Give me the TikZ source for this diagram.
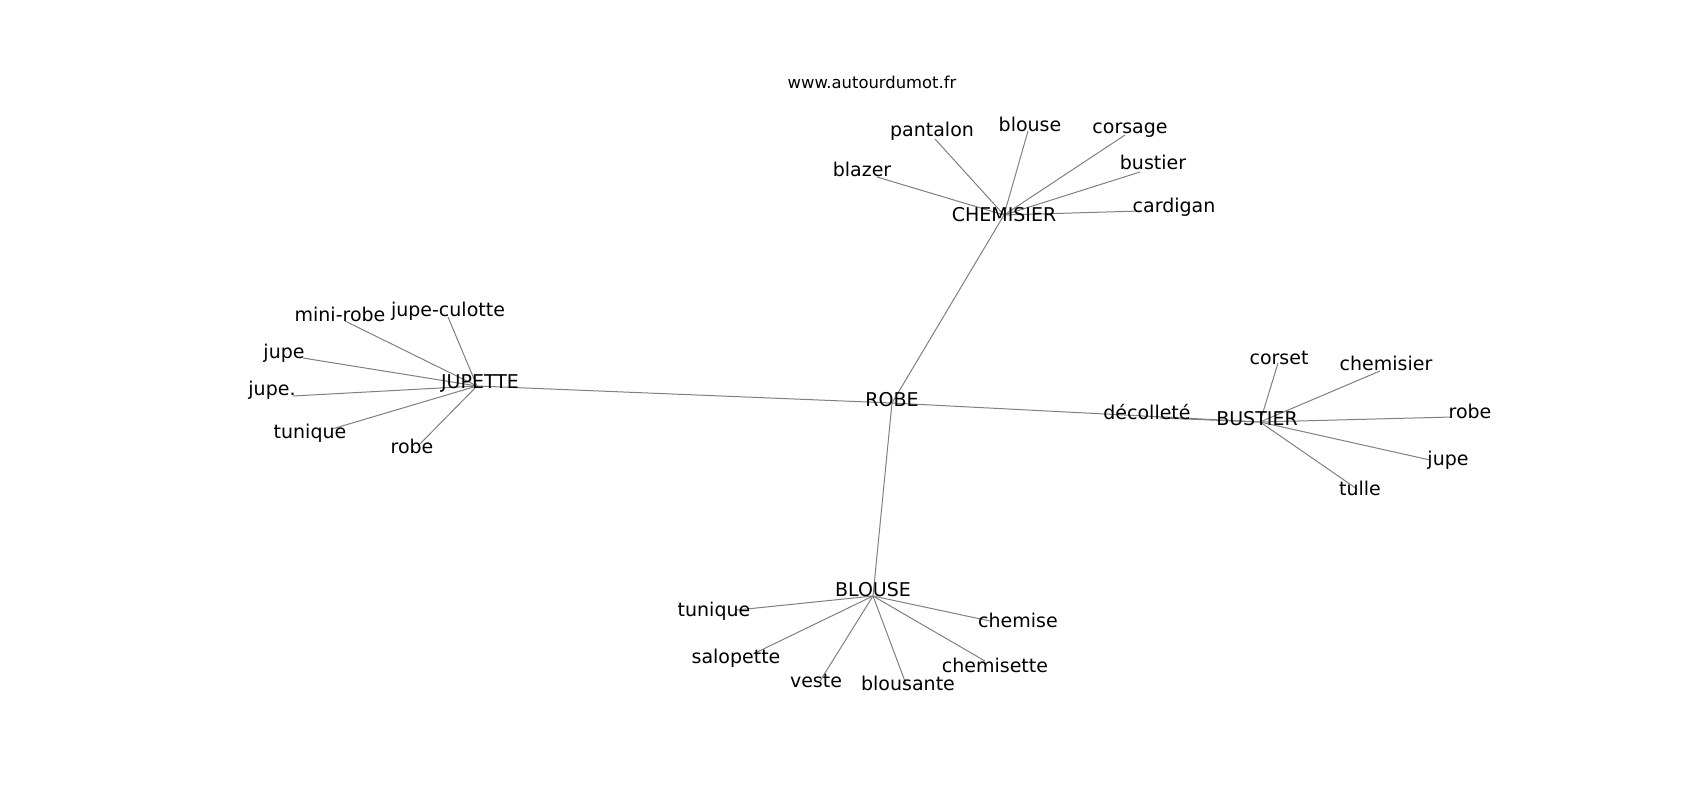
\documentclass[tikz,border=0pt]{standalone}
\usepackage{fontspec}
\setmainfont{DejaVu Sans}
\tikzset{
  lbl/.style={inner sep=0pt, text height=0.73em, text depth=0pt, font=\fontsize{19}{23}\selectfont, anchor=center},
  ttl/.style={inner sep=0pt, text height=0.73em, text depth=0pt, font=\fontsize{16.4}{20}\selectfont, anchor=center},
  edge/.style={draw=black!50, line width=1pt}
}
\begin{document}
\begin{tikzpicture}[x=1pt,y=-1pt]
\fill[white] (0,0) rectangle (1700,800);
\useasboundingbox (0,0) rectangle (1700,800);
\begin{scope}[yshift=-4pt]
% edge end coordinates
\coordinate (cROBE) at (892,399);
\coordinate (cCHEM) at (1004,211);
\coordinate (cJUP) at (477,382);
\coordinate (cBUS) at (1260,418);
\coordinate (cBLO) at (873,592);

\coordinate (ePantalon) at (935,135);
\coordinate (eBlouse) at (1028,127);
\coordinate (eCorsage) at (1125,131);
\coordinate (eBustier) at (1140,168);
\coordinate (eCardigan) at (1140,207);
\coordinate (eBlazer) at (877,173);

\coordinate (eMiniRobe) at (345,317);
\coordinate (eJupeCulotte) at (448,313);
\coordinate (eJupeA) at (303,354);
\coordinate (eJupeB) at (293,392);
\coordinate (eTuniqueA) at (332,425);
\coordinate (eRobeA) at (418,442);

\coordinate (eCorset) at (1278,359);
\coordinate (eChemisier) at (1380,367);
\coordinate (eRobeB) at (1452,413);
\coordinate (eJupeC) at (1430,456);
\coordinate (eTulle) at (1357,485);
\coordinate (eDecollete) at (1160,414);

\coordinate (eTuniqueB) at (737,606);
\coordinate (eSalopette) at (753,650);
\coordinate (eVeste) at (820,677);
\coordinate (eBlousante) at (906,680);
\coordinate (eChemisette) at (985,657);
\coordinate (eChemise) at (990,617);

% edges
\draw[edge] (cROBE) -- (cCHEM);
\draw[edge] (cROBE) -- (cJUP);
\draw[edge] (cROBE) -- (cBUS);
\draw[edge] (cROBE) -- (cBLO);

\foreach \e in {ePantalon,eBlouse,eCorsage,eBustier,eCardigan,eBlazer}
  \draw[edge] (cCHEM) -- (\e);
\foreach \e in {eMiniRobe,eJupeCulotte,eJupeA,eJupeB,eTuniqueA,eRobeA}
  \draw[edge] (cJUP) -- (\e);
\foreach \e in {eCorset,eChemisier,eRobeB,eJupeC,eTulle,eDecollete}
  \draw[edge] (cBUS) -- (\e);
\foreach \e in {eTuniqueB,eSalopette,eVeste,eBlousante,eChemisette,eChemise}
  \draw[edge] (cBLO) -- (\e);

% labels
\node[ttl] (title) at (872,81) {www.autourdumot.fr};

\node[lbl] (ROBE) at (892,399) {ROBE};
\node[lbl] (CHEMISIER) at (1004,214) {CHEMISIER};
\node[lbl] (JUPETTE) at (480,381) {JUPETTE};
\node[lbl] (BUSTIER) at (1257,418) {BUSTIER};
\node[lbl] (BLOUSE) at (873,589) {BLOUSE};

\node[lbl] (pantalon) at (932,129) {pantalon};
\node[lbl] (blouse) at (1030,124) {blouse};
\node[lbl] (corsage) at (1130,126) {corsage};
\node[lbl] (bustier) at (1153,162) {bustier};
\node[lbl] (cardigan) at (1174,205) {cardigan};
\node[lbl] (blazer) at (862,169) {blazer};

\node[lbl] (minirobe) at (340,314) {mini-robe};
\node[lbl] (jupeculotte) at (448,309) {jupe-culotte};
\node[lbl] (jupeA) at (284,351) {jupe};
\node[lbl] (jupeB) at (272,388) {jupe.};
\node[lbl] (tuniqueA) at (310,431) {tunique};
\node[lbl] (robeA) at (412,446) {robe};

\node[lbl] (corset) at (1279,357) {corset};
\node[lbl] (chemisier) at (1386,363) {chemisier};
\node[lbl] (robeB) at (1470,411) {robe};
\node[lbl] (jupeC) at (1448,458) {jupe};
\node[lbl] (tulle) at (1360,488) {tulle};
\node[lbl] (decollete) at (1147,412) {décolleté};

\node[lbl] (tuniqueB) at (714,609) {tunique};
\node[lbl] (chemise) at (1018,620) {chemise};
\node[lbl] (salopette) at (736,656) {salopette};
\node[lbl] (chemisette) at (995,665) {chemisette};
\node[lbl] (veste) at (816,680) {veste};
\node[lbl] (blousante) at (908,683) {blousante};
\end{scope}
\end{tikzpicture}
\end{document}
